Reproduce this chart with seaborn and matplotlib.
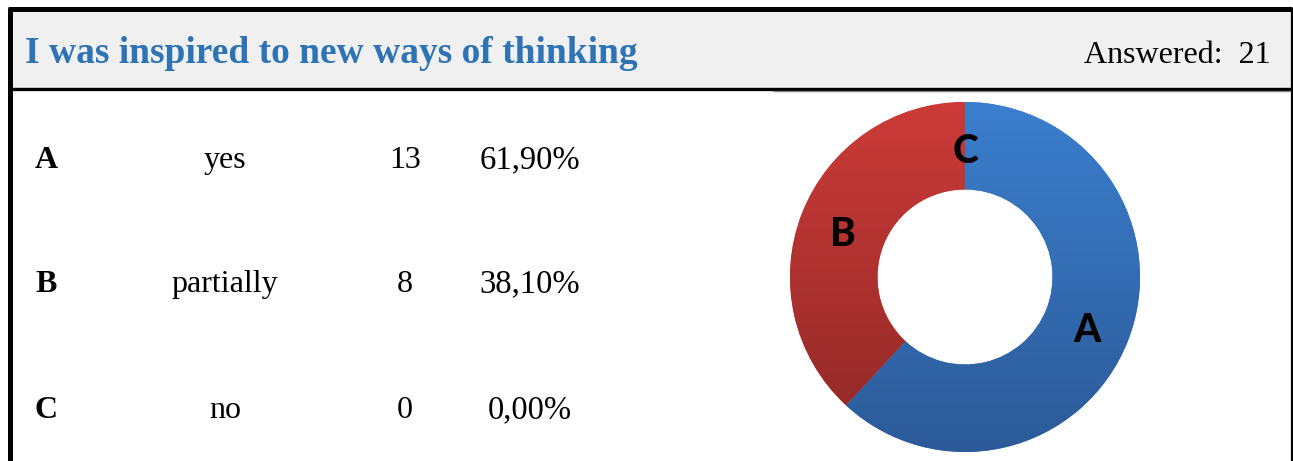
import numpy as np
import matplotlib
matplotlib.use("Agg")
import matplotlib.pyplot as plt
import seaborn as sns

# survey data
title = "I was inspired to new ways of thinking"
letters = ["A", "B", "C"]
options = ["yes", "partially", "no"]
counts = [13, 8, 0]

# colours (gradient top -> bottom)
TITLE_BLUE = "#2e74b5"
HEADER_GRAY = "#f0f0f0"
BLUE_TOP, BLUE_BOT = "#3b7fce", "#2c5a98"
RED_TOP, RED_BOT = "#cc3b38", "#8f2826"
C_COL = "#8aa84a"

sns.set_theme(style="white")
plt.rcParams["font.family"] = ["Liberation Serif", "DejaVu Serif"]
plt.rcParams["text.color"] = "black"

W, H = 1293, 461
fig = plt.figure(figsize=(W / 100, H / 100), dpi=100)

# full-figure canvas in pixel coordinates
ax = fig.add_axes([0, 0, 1, 1])
ax.set_xlim(0, W)
ax.set_ylim(H, 0)
ax.axis("off")

# header band and frame
ax.add_patch(plt.Rectangle((10, 10), 1281, 79, facecolor=HEADER_GRAY, edgecolor="none"))
ax.plot([10, 10], [8, H], color="black", lw=3.6, solid_capstyle="butt")
ax.plot([8, 1292], [9.5, 9.5], color="black", lw=3.6, solid_capstyle="butt")
ax.plot([1291.5, 1291.5], [8, H], color="black", lw=1.6, solid_capstyle="butt")
ax.plot([10, 1292], [89, 89], color="black", lw=2.4, solid_capstyle="butt")
ax.plot([773, 1290], [91, 91], color="#808080", lw=1.0, solid_capstyle="butt")

total = sum(counts)
ax.text(25, 63, title, color=TITLE_BLUE, fontsize=27, fontweight="bold", ha="left", va="baseline")
ax.text(1270, 63, f"Answered:  {total}", color="black", fontsize=23, ha="right", va="baseline")

row_y = [168, 292, 418]
for y, let, opt, n in zip(row_y, letters, options, counts):
    pct = f"{100 * n / total:.2f}%".replace(".", ",")
    ax.text(35, y, let, fontsize=23, fontweight="bold", ha="left", va="baseline", color="black")
    ax.text(225, y, opt, fontsize=23, ha="center", va="baseline", color="black")
    ax.text(405, y, str(n), fontsize=23, ha="center", va="baseline", color="black")
    ax.text(530, y, pct, fontsize=23.5, ha="center", va="baseline", color="black")

# donut chart
cx, cy, r = 965, 277, 175
pax = fig.add_axes([(cx - r) / W, (H - cy - r) / H, 2 * r / W, 2 * r / H])
wedges, texts = pax.pie(
    counts,
    labels=letters,
    colors=[BLUE_TOP, RED_TOP, C_COL],
    startangle=90,
    counterclock=False,
    radius=1,
    labeldistance=0.75,
    wedgeprops=dict(width=0.5, edgecolor="none"),
    textprops=dict(fontsize=28, fontweight="black", family=["Lato", "DejaVu Sans"],
                   color="black", ha="center", va="center"),
)
pax.set_xlim(-1, 1)
pax.set_ylim(-1, 1)
pax.set_aspect("equal")
pax.axis("off")

# vertical gradients clipped to each wedge
grad = np.linspace(0, 1, 256).reshape(-1, 1)
for w, (top, bot) in zip(wedges[:2], [(BLUE_TOP, BLUE_BOT), (RED_TOP, RED_BOT)]):
    cmap = matplotlib.colors.LinearSegmentedColormap.from_list("g", [top, bot])
    im = pax.imshow(grad, cmap=cmap, extent=(-1, 1, -1, 1), origin="upper",
                    aspect="auto", zorder=w.get_zorder() + 0.1)
    im.set_clip_path(w)
for t in texts:
    t.set_zorder(5)
    t.set_y(t.get_position()[1] - 0.034)  # labels sit a bit lower in the original

fig.savefig("out.png", dpi=100)
